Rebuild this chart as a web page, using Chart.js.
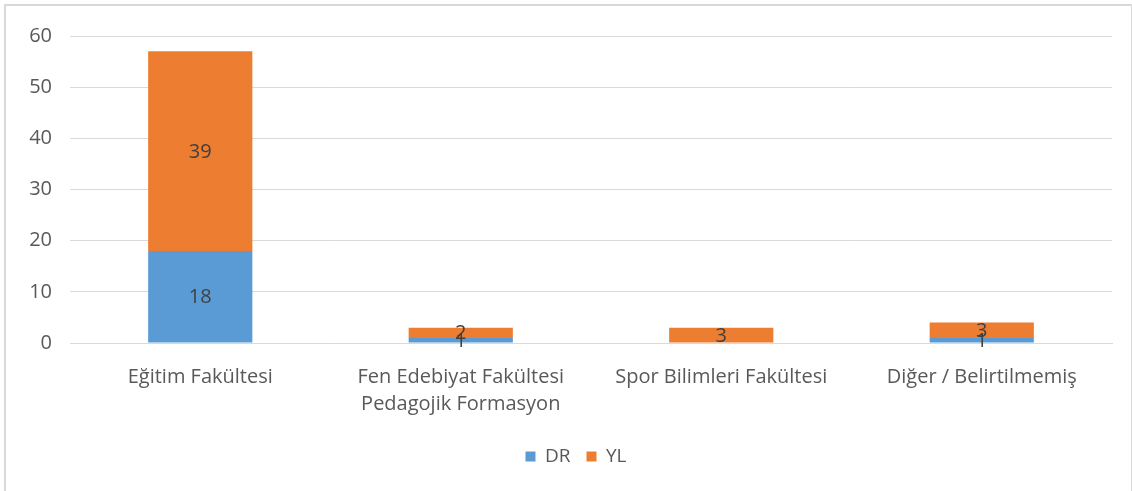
<!DOCTYPE html>
<html>
<head>
<meta charset="utf-8">
<script src="https://cdn.jsdelivr.net/npm/chart.js@4"></script>
<style>
    body { margin: 0; background: #fff; }
    #box {
        position: absolute;
        left: 4px; top: 4px;
        width: 1125px; height: 485px;
        border: 2px solid #d9d9d9;
    }
</style>
</head>
<body>
<div id="box"><canvas id="bar-chart" width="1125" height="485"></canvas></div>
<script>
const categories = [
    'Eğitim Fakültesi',
    ['Fen Edebiyat Fakültesi', 'Pedagojik Formasyon'],
    'Spor Bilimleri Fakültesi',
    'Diğer / Belirtilmemiş'
];
const drValues = [18, 1, 0, 1];
const ylValues = [39, 2, 3, 3];
const yTicks = [0, 10, 20, 30, 40, 50, 60];

const fontName = "'Open Sans', 'DejaVu Sans', sans-serif";

// draws the value in the middle of each bar piece (like excel data labels)
const valueLabels = {
    id: 'valueLabels',
    afterLayout(chart) {
        // excel puts the legend a bit right of the middle
        chart.legend.left += 17;
        chart.legend.right += 17;
    },
    afterDatasetsDraw(chart) {
        const ctx = chart.ctx;
        ctx.save();
        ctx.font = '20px ' + fontName;
        ctx.fillStyle = '#404040';
        ctx.textAlign = 'center';
        ctx.textBaseline = 'middle';
        chart.data.datasets.forEach((ds, i) => {
            const meta = chart.getDatasetMeta(i);
            meta.data.forEach((bar, j) => {
                const v = ds.data[j];
                if (!v) return;
                const mid = (bar.y + bar.base) / 2;
                ctx.fillText(v, bar.x, mid + 1);
            });
        });
        ctx.restore();
    }
};

const barData = {
    labels: categories,
    datasets: [{
        label: 'DR',
        backgroundColor: 'rgb(91, 155, 213)',
        data: drValues,
        categoryPercentage: 1,
        barPercentage: 0.4
    },
    {
        label: 'YL',
        backgroundColor: 'rgb(237, 125, 49)',
        data: ylValues,
        categoryPercentage: 1,
        barPercentage: 0.4
    }]
};

const barOptions = {
    responsive: false,
    animation: false,
    layout: {
        padding: { top: 14, right: 19, bottom: 15, left: 0 }
    },
    plugins: {
        legend: {
            position: 'bottom',
            labels: {
                boxWidth: 10,
                boxHeight: 10,
                padding: 16,
                color: '#595959',
                font: { size: 19, family: fontName }
            }
        },
        tooltip: { enabled: false }
    },
    scales: {
        x: {
            stacked: true,
            grid: { display: false },
            border: { color: '#d9d9d9' },
            ticks: {
                color: '#595959',
                padding: 13,
                maxRotation: 0,
                font: { size: 20, family: fontName, lineHeight: 1.35 }
            },
            afterFit(scale) { scale.height = 88; }
        },
        y: {
            stacked: true,
            min: 0,
            max: 60,
            afterBuildTicks(scale) { scale.ticks = yTicks.map(v => ({ value: v })); },
            grid: { color: '#d9d9d9', drawTicks: false },
            border: { display: false },
            ticks: {
                color: '#595959',
                padding: 18,
                font: { size: 20, family: fontName }
            },
            afterFit(scale) { scale.width = 64; }
        }
    }
};

const barChart = new Chart(document.getElementById('bar-chart'), {
    type: 'bar',
    data: barData,
    options: barOptions,
    plugins: [valueLabels]
});
</script>
</body>
</html>
